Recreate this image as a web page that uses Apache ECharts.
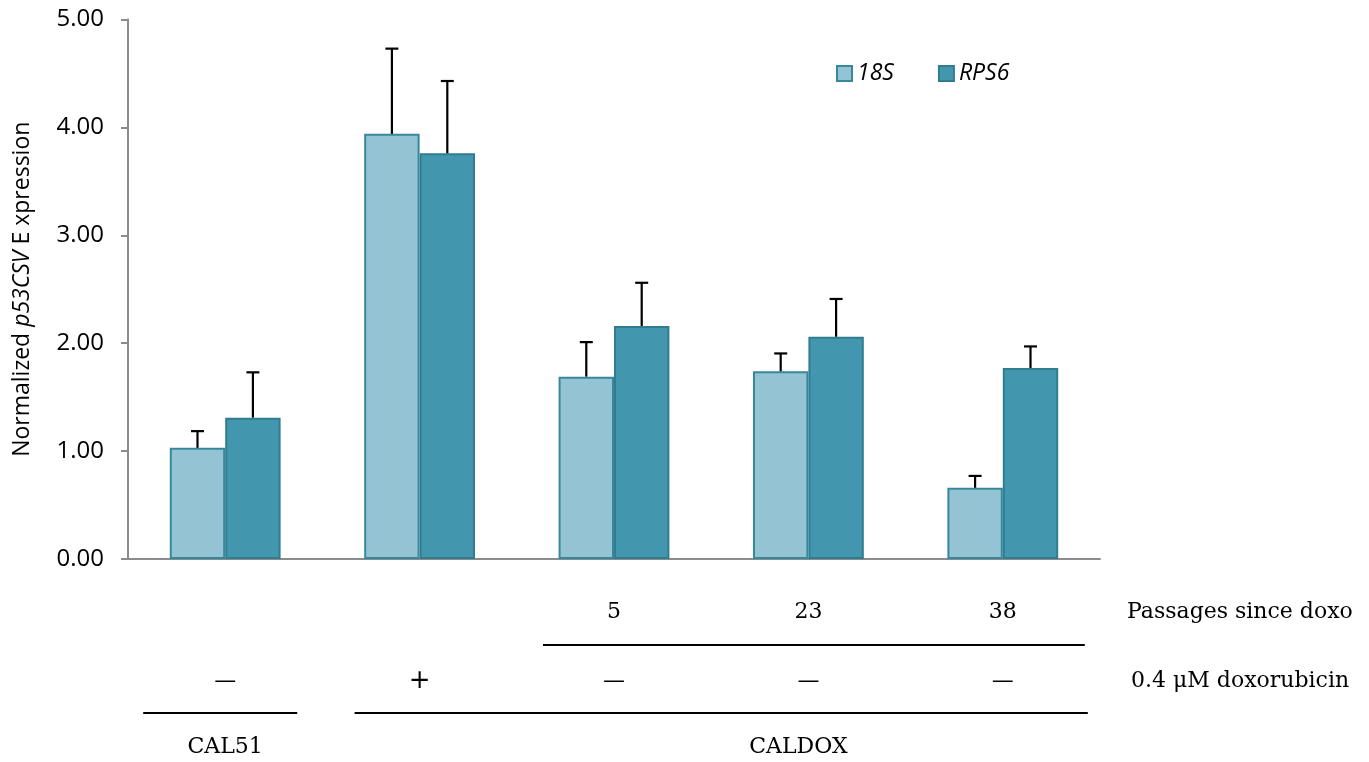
<!DOCTYPE html>
<html>
<head>
<meta charset="utf-8">
<script src="https://cdn.jsdelivr.net/npm/echarts@6/dist/echarts.min.js"></script>
<style>
  html, body { margin: 0; padding: 0; background: #fff; }
  #chart { width: 1369px; height: 762px; }
</style>
</head>
<body>
<div id="chart"></div>
<script>
// Sample groups along the x axis
const groups = ['CAL51', 'CALDOX dox', 'CALDOX p5', 'CALDOX p23', 'CALDOX p38'];

// Normalized p53CSV expression with each reference gene, and upper error (SD)
const values18S = [1.03, 3.94, 1.69, 1.74, 0.66];
const error18S  = [0.155, 0.79, 0.32, 0.165, 0.11];
const valuesRPS6 = [1.31, 3.76, 2.16, 2.06, 1.77];
const errorRPS6  = [0.42, 0.67, 0.40, 0.35, 0.20];

// Y axis ticks
const yTicks = { min: 0, max: 5, interval: 1 };

// Rows of annotation under the axis
const passages = ['', '', '5', '23', '38'];
const doxoTreatment = ['—', '+', '—', '—', '—'];
const passageRowLabel = 'Passages since doxo';
const doxoRowLabel = '0.4 μM doxorubicin';
const cellLines = [
  { name: 'CAL51', from: 0, to: 0 },
  { name: 'CALDOX', from: 1, to: 4 }
];
const passageSpan = { from: 2, to: 4 };

const C18S = '#94c3d3';
const CRPS6 = '#4297ae';
const BORDER = '#37889d';
const BAR_FRAC = 0.285;

const chart = echarts.init(document.getElementById('chart'));

function errorSeries(name, vals, errs, side) {
  return {
    type: 'custom',
    name: name + ' error',
    z: 5,
    silent: true,
    data: vals.map((v, i) => [i, v, errs[i]]),
    renderItem: function (params, api) {
      const i = api.value(0), v = api.value(1), e = api.value(2);
      const band = api.size([1, 0])[0];
      const base = api.coord([i, v]);
      const top = api.coord([i, v + e]);
      const x = base[0] + side * band * BAR_FRAC / 2;
      const style = { stroke: '#000', lineWidth: 2.2 };
      return {
        type: 'group',
        children: [
          { type: 'line', shape: { x1: x, y1: base[1], x2: x, y2: top[1] }, style: style },
          { type: 'line', shape: { x1: x - 6.5, y1: top[1], x2: x + 6.5, y2: top[1] }, style: style }
        ]
      };
    }
  };
}

const option = {
  animation: false,
  backgroundColor: '#fff',
  grid: { left: 128, right: 269, top: 19.5, bottom: 203, containLabel: false, outerBoundsMode: 'none' },
  legend: {
    left: 831, top: 57,
    icon: 'rect',
    itemWidth: 15, itemHeight: 15, itemGap: 44,
    data: ['18S', 'RPS6'],
    textStyle: { fontFamily: 'Open Sans', fontStyle: 'italic', fontSize: 23, color: '#000' }
  },
  xAxis: {
    type: 'category',
    data: groups,
    axisLine: { lineStyle: { color: '#8c8c8c', width: 2 } },
    axisTick: { show: false },
    axisLabel: { show: false }
  },
  yAxis: {
    type: 'value',
    min: yTicks.min, max: yTicks.max, interval: yTicks.interval,
    splitLine: { show: false },
    axisLine: { show: true, lineStyle: { color: '#8c8c8c', width: 2 } },
    axisTick: { show: true, length: 7, lineStyle: { color: '#8c8c8c', width: 2 } },
    axisLabel: {
      margin: 24,
      fontFamily: 'Open Sans', fontSize: 24, color: '#000',
      formatter: v => v.toFixed(2)
    },
    name: '{a|Normalized }{i|p53CSV}{a| E xpression}',
    nameLocation: 'middle',
    nameRotate: 90,
    nameGap: 94,
    nameTextStyle: {
      rich: {
        a: { fontFamily: 'Open Sans', fontSize: 23, color: '#000' },
        i: { fontFamily: 'Open Sans', fontSize: 23, fontStyle: 'italic', color: '#000' }
      }
    }
  },
  series: [
    {
      name: '18S', type: 'bar', data: values18S,
      barWidth: (BAR_FRAC * 100) + '%', barGap: '0%',
      itemStyle: { color: C18S, borderColor: BORDER, borderWidth: 2 }
    },
    {
      name: 'RPS6', type: 'bar', data: valuesRPS6,
      barWidth: (BAR_FRAC * 100) + '%', barGap: '0%',
      itemStyle: { color: CRPS6, borderColor: '#307d91', borderWidth: 2 }
    },
    errorSeries('18S', values18S, error18S, -1),
    errorSeries('RPS6', valuesRPS6, errorRPS6, 1)
  ]
};

chart.setOption(option);

// Annotation rows below the plot, placed at the category positions
function cx(i) { return chart.convertToPixel({ xAxisIndex: 0 }, i); }
const serif = 'DejaVu Serif';
const Y_PASS = 612, Y_LINE1 = 645, Y_DOXO = 681, Y_LINE2 = 713, Y_NAME = 747;
const g = [];
function text(x, y, s, align, font, size) {
  g.push({
    type: 'text', x: x, y: y,
    style: { text: s, align: align, verticalAlign: 'middle', fill: '#000',
             font: size + 'px "' + font + '"' }
  });
}
function hline(x1, x2, y) {
  g.push({ type: 'line', shape: { x1: x1, y1: y, x2: x2, y2: y },
           style: { stroke: '#000', lineWidth: 2 } });
}
passages.forEach((p, i) => { if (p) text(cx(i), Y_PASS, p, 'center', serif, 22); });
doxoTreatment.forEach((d, i) => text(cx(i), Y_DOXO, d, 'center', 'DejaVu Sans', d === '+' ? 26 : 22));
hline(cx(passageSpan.from) - 71, cx(passageSpan.to) + 82, Y_LINE1);
const pads = [[-82, 72], [-65, 85]];
cellLines.forEach((c, k) => {
  hline(cx(c.from) + pads[k][0], cx(c.to) + pads[k][1], Y_LINE2);
  const mid = c.from === c.to ? cx(c.from) : (cx(c.from + 1) + cx(c.to)) / 2 - 10;
  text(mid, Y_NAME, c.name, 'center', serif, 22);
});
text(1127, Y_PASS, passageRowLabel, 'left', serif, 22);
text(1131, Y_DOXO, doxoRowLabel, 'left', serif, 22);
chart.setOption({ graphic: g });
</script>
</body>
</html>
